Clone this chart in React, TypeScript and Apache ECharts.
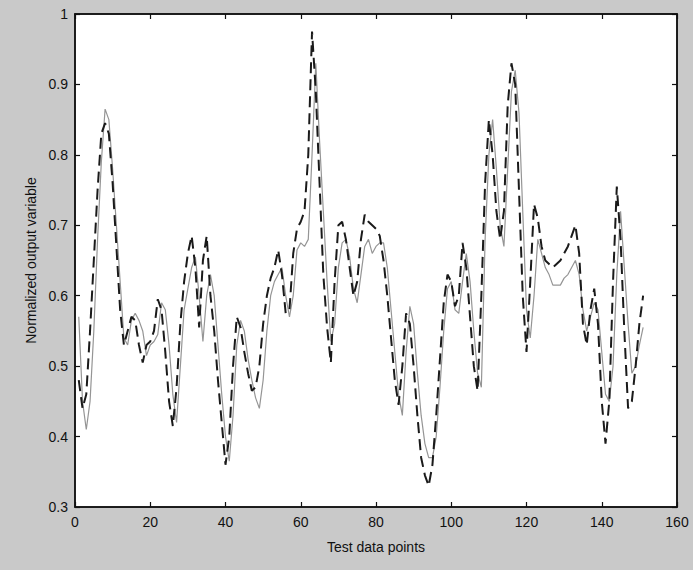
import React, { useEffect, useRef } from "react";
import * as echarts from "echarts";

const xTicks = [0, 20, 40, 60, 80, 100, 120, 140, 160];
const yTicks = [0.3, 0.4, 0.5, 0.6, 0.7, 0.8, 0.9, 1];

// Dashed (black) series, test points 1..151
const dashedValues = [
  0.48, 0.44, 0.46, 0.55, 0.65, 0.75, 0.83, 0.845, 0.83, 0.76,
  0.67, 0.58, 0.53, 0.55, 0.57, 0.565, 0.53, 0.505, 0.53, 0.535,
  0.55, 0.595, 0.58, 0.52, 0.45, 0.415, 0.47, 0.56, 0.62, 0.66,
  0.685, 0.64, 0.555, 0.65, 0.685, 0.6, 0.55, 0.48, 0.42, 0.36,
  0.4, 0.5, 0.57, 0.555, 0.52, 0.49, 0.465, 0.47, 0.5, 0.56,
  0.6, 0.625, 0.64, 0.665, 0.63, 0.575, 0.58, 0.66, 0.695, 0.705,
  0.72, 0.8, 0.975, 0.89, 0.76, 0.63, 0.555, 0.505, 0.62, 0.7,
  0.705, 0.68, 0.64, 0.6, 0.62, 0.68, 0.715, 0.705, 0.7, 0.695,
  0.685, 0.65, 0.6, 0.54, 0.48, 0.445, 0.5, 0.575, 0.56, 0.5,
  0.43, 0.37, 0.345, 0.33, 0.36, 0.43, 0.51, 0.59, 0.63, 0.62,
  0.585, 0.6, 0.675, 0.64, 0.57, 0.5, 0.465, 0.6, 0.76, 0.85,
  0.8, 0.72, 0.68, 0.72, 0.87, 0.93, 0.9, 0.75, 0.6, 0.52,
  0.62, 0.73, 0.71, 0.67, 0.65, 0.645, 0.64, 0.645, 0.65, 0.66,
  0.67, 0.685, 0.7, 0.66, 0.56, 0.53, 0.58, 0.61, 0.56, 0.45,
  0.39, 0.45, 0.62, 0.755, 0.68, 0.55, 0.44, 0.45, 0.5, 0.56,
  0.6,
];

// Solid (grey) series, test points 1..151
const solidValues = [
  0.57, 0.45, 0.41, 0.45, 0.55, 0.68, 0.79, 0.865, 0.85, 0.78,
  0.7, 0.62, 0.54, 0.53, 0.565, 0.575, 0.565, 0.55, 0.515, 0.53,
  0.535, 0.545, 0.59, 0.58, 0.53, 0.46, 0.42, 0.5, 0.58, 0.61,
  0.64, 0.655, 0.6, 0.535, 0.6, 0.63, 0.6, 0.53, 0.46, 0.4,
  0.365, 0.43, 0.53, 0.565, 0.55, 0.51, 0.48, 0.455, 0.44, 0.48,
  0.55, 0.6, 0.62, 0.63, 0.64, 0.6, 0.57, 0.6, 0.665, 0.675,
  0.67, 0.68, 0.8, 0.93, 0.82, 0.72, 0.62, 0.535, 0.56, 0.64,
  0.675, 0.68, 0.655, 0.61, 0.59, 0.63, 0.67, 0.68, 0.66, 0.67,
  0.675, 0.675, 0.64, 0.58, 0.52, 0.46, 0.43, 0.52, 0.585, 0.56,
  0.49, 0.43, 0.39, 0.37, 0.37, 0.4, 0.47, 0.55, 0.61, 0.62,
  0.58, 0.575, 0.62, 0.66, 0.62, 0.55, 0.49, 0.47, 0.68, 0.8,
  0.85, 0.78, 0.7, 0.67, 0.78, 0.89, 0.92, 0.86, 0.72, 0.58,
  0.54, 0.6, 0.68, 0.66, 0.64, 0.63, 0.615, 0.615, 0.615, 0.625,
  0.63, 0.64, 0.65, 0.63, 0.58, 0.55, 0.57, 0.59, 0.58, 0.52,
  0.46, 0.45, 0.5, 0.63, 0.72, 0.64, 0.56, 0.49, 0.5, 0.53,
  0.555,
];

const FONT = "'Liberation Sans Narrow', 'Arial Narrow', 'Liberation Sans', Arial, sans-serif";

export default function App() {
  const ref = useRef<HTMLDivElement>(null);
  useEffect(() => {
    document.body.style.margin = "0";
    if (!ref.current) return;
    const chart = echarts.init(ref.current, null, { renderer: "svg" });
    const toPairs = (arr: number[]) => arr.map((v, i) => [i + 1, v]);
    const axisCommonX = {
      type: "value" as const,
      min: xTicks[0],
      max: xTicks[xTicks.length - 1],
      interval: 20,
      splitLine: { show: false },
      axisLine: { show: true, onZero: false, lineStyle: { color: "#111", width: 1.5 } },
      axisTick: { show: true, inside: true, length: 5, lineStyle: { color: "#111", width: 1.2 } },
    };
    const axisCommonY = {
      type: "value" as const,
      min: yTicks[0],
      max: yTicks[yTicks.length - 1],
      interval: 0.1,
      splitLine: { show: false },
      axisLine: { show: true, onZero: false, lineStyle: { color: "#111", width: 1.5 } },
      axisTick: { show: true, inside: true, length: 5, lineStyle: { color: "#111", width: 1.2 } },
    };
    chart.setOption({
      animation: false,
      backgroundColor: "#c9c9c9",
      grid: {
        left: 75,
        right: 16,
        top: 14,
        bottom: 63,
        show: true,
        backgroundColor: "#ffffff",
        borderColor: "#111",
        borderWidth: 1.5,
      },
      xAxis: [
        {
          ...axisCommonX,
          position: "bottom",
          name: "Test data points",
          nameLocation: "middle",
          nameGap: 33,
          nameTextStyle: { color: "#111", fontSize: 14, fontFamily: FONT },
          axisLabel: { color: "#111", fontSize: 14, fontFamily: FONT, margin: 8 },
        },
        {
          ...axisCommonX,
          position: "top",
          axisLabel: { show: false },
        },
      ],
      yAxis: [
        {
          ...axisCommonY,
          position: "left",
          name: "Normalized output variable",
          nameLocation: "middle",
          nameGap: 33,
          nameRotate: 90,
          nameTextStyle: { color: "#111", fontSize: 14, fontFamily: FONT },
          axisLabel: {
            color: "#111",
            fontSize: 14,
            fontFamily: FONT,
            margin: 7,
            formatter: (v: number) => (Math.abs(v - 1) < 1e-9 ? "1" : v.toFixed(1)),
          },
        },
        {
          ...axisCommonY,
          position: "right",
          axisLabel: { show: false },
        },
      ],
      series: [
        {
          name: "Solid",
          type: "line",
          xAxisIndex: 0,
          yAxisIndex: 0,
          data: toPairs(solidValues),
          showSymbol: false,
          symbol: "none",
          lineStyle: { color: "#959595", width: 1.2 },
          z: 2,
        },
        {
          name: "Dashed",
          type: "line",
          xAxisIndex: 0,
          yAxisIndex: 0,
          data: toPairs(dashedValues),
          showSymbol: false,
          symbol: "none",
          lineStyle: { color: "#1a1a1a", width: 2, type: [11, 6] },
          z: 3,
        },
      ],
    });
    return () => chart.dispose();
  }, []);
  return <div ref={ref} style={{ width: 693, height: 570 }} />;
}
